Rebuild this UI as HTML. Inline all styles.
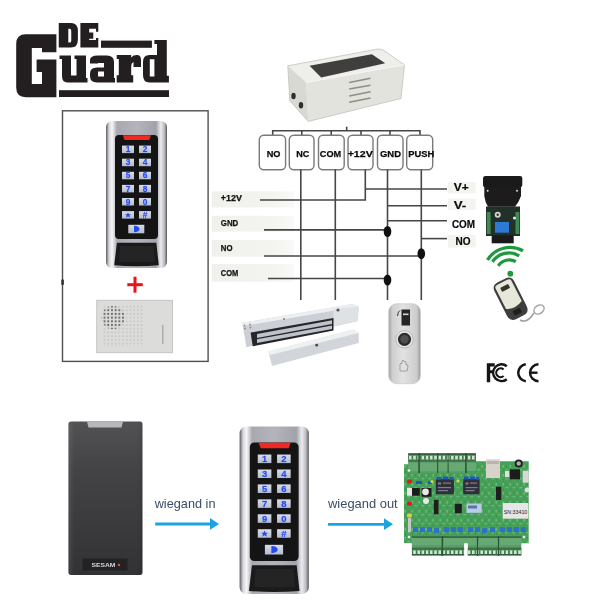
<!DOCTYPE html>
<html><head><meta charset="utf-8">
<style>
html,body{margin:0;padding:0;background:#fff;width:600px;height:600px;overflow:hidden}
svg{display:block;filter:blur(0.4px)}
text{font-family:"Liberation Sans",sans-serif}
</style></head>
<body>
<svg width="600" height="600" viewBox="0 0 600 600">
<defs>
  <linearGradient id="silverH" x1="0" x2="1" y1="0" y2="0">
    <stop offset="0" stop-color="#5a5a60"/>
    <stop offset="0.05" stop-color="#d8d8dc"/>
    <stop offset="0.1" stop-color="#f6f6f8"/>
    <stop offset="0.18" stop-color="#a8a8b0"/>
    <stop offset="0.5" stop-color="#b4b4bc"/>
    <stop offset="0.82" stop-color="#a2a2aa"/>
    <stop offset="0.9" stop-color="#ececf0"/>
    <stop offset="0.96" stop-color="#b8b8be"/>
    <stop offset="1" stop-color="#55555b"/>
  </linearGradient>
  <linearGradient id="keyG" x1="0" x2="0" y1="0" y2="1">
    <stop offset="0" stop-color="#d8dce6"/>
    <stop offset="1" stop-color="#b4bccc"/>
  </linearGradient>
  <g id="keypad">
    <rect x="0" y="0" width="61" height="147" rx="6" fill="url(#silverH)"/>
        <path d="M10.9,121.8 H50.3 L52.8,144.3 Q30,146 8.2,144.3 Z" fill="#1a1a1a"/>
    <path d="M14,125 H47.5 L49,141 H13 Z" fill="#242424"/>
    <rect x="9" y="14" width="43" height="104" rx="4" fill="#141414"/>
    <path d="M16.8,14.2 H45 L43.3,19 H18.6 Z" fill="#f02a20"/>
    <g fill="url(#keyG)">
      <rect x="16" y="24.6" width="12" height="7.5"/><rect x="33" y="24.6" width="12" height="7.5"/>
      <rect x="16" y="37.7" width="12" height="7.5"/><rect x="33" y="37.7" width="12" height="7.5"/>
      <rect x="16" y="50.8" width="12" height="7.5"/><rect x="33" y="50.8" width="12" height="7.5"/>
      <rect x="16" y="63.9" width="12" height="7.5"/><rect x="33" y="63.9" width="12" height="7.5"/>
      <rect x="16" y="77" width="12" height="7.5"/><rect x="33" y="77" width="12" height="7.5"/>
      <rect x="16" y="90.1" width="12" height="7.5"/><rect x="33" y="90.1" width="12" height="7.5"/>
      <rect x="22.3" y="103.8" width="16" height="8.5"/>
    </g>
    <g fill="#2244f0" stroke="#3a5cff" stroke-width="0.3" stroke-opacity="0.6" font-weight="bold" font-size="8.3" text-anchor="middle">
      <text x="22" y="31.2">1</text><text x="39" y="31.2">2</text>
      <text x="22" y="44.3">3</text><text x="39" y="44.3">4</text>
      <text x="22" y="57.4">5</text><text x="39" y="57.4">6</text>
      <text x="22" y="70.5">7</text><text x="39" y="70.5">8</text>
      <text x="22" y="83.6">9</text><text x="39" y="83.6">0</text>
      <text x="39" y="96.8">#</text>
    </g>
    <path d="M22,91.3 L22.9,93.2 L25,93.3 L23.4,94.6 L24,96.6 L22,95.5 L20,96.6 L20.6,94.6 L19,93.3 L21.1,93.2 Z" fill="#2548f0"/>
    <path d="M28,104.8 Q33.5,105 33.5,108 Q33.5,111 28,111.2 Z" fill="#2548f0"/>
  </g>
  <linearGradient id="btnG" x1="0" x2="1" y1="0" y2="0">
    <stop offset="0" stop-color="#a4a4a4"/>
    <stop offset="0.12" stop-color="#cfcfcf"/>
    <stop offset="0.45" stop-color="#e2e2e2"/>
    <stop offset="0.88" stop-color="#cdcdcd"/>
    <stop offset="1" stop-color="#9c9c9c"/>
  </linearGradient>
  <linearGradient id="labelL" x1="0" x2="1" y1="0" y2="0">
    <stop offset="0" stop-color="#f0f0ec"/>
    <stop offset="0.7" stop-color="#f3f3ef"/>
    <stop offset="1" stop-color="#f9f9f7"/>
  </linearGradient>
  <linearGradient id="readerG" x1="0" x2="0" y1="0" y2="1">
    <stop offset="0" stop-color="#525254"/>
    <stop offset="0.3" stop-color="#444446"/>
    <stop offset="0.7" stop-color="#3a3a3c"/>
    <stop offset="1" stop-color="#323234"/>
  </linearGradient>
  <linearGradient id="readerE" x1="0" x2="1" y1="0" y2="0">
    <stop offset="0" stop-color="#ffffff" stop-opacity="0.08"/>
    <stop offset="0.08" stop-color="#ffffff" stop-opacity="0"/>
    <stop offset="0.92" stop-color="#000000" stop-opacity="0"/>
    <stop offset="1" stop-color="#000000" stop-opacity="0.08"/>
  </linearGradient>
  <pattern id="dots" x="102.7" y="304.7" width="3.7" height="3.7" patternUnits="userSpaceOnUse">
    <circle cx="1.85" cy="1.85" r="0.85" fill="#c2c2c2"/>
  </pattern>
  <pattern id="dotsD" x="102.7" y="304.7" width="3.7" height="3.7" patternUnits="userSpaceOnUse">
    <circle cx="1.85" cy="1.85" r="1.05" fill="#6a6a6a"/>
  </pattern>
  <pattern id="screws" x="0" y="0" width="4.5" height="10" patternUnits="userSpaceOnUse">
    <rect x="0.8" y="2" width="2.8" height="3" fill="#b8e0c0"/>
  </pattern>
  <pattern id="screwT" x="408.2" y="0" width="4.2" height="10" patternUnits="userSpaceOnUse">
    <rect x="0" y="0" width="4.2" height="10" fill="#3e7248"/>
    <rect x="0.8" y="0" width="2.6" height="10" fill="#cde8cf"/>
  </pattern>
  <pattern id="pcbTex" x="404" y="464" width="7" height="9" patternUnits="userSpaceOnUse">
    <rect x="0.5" y="1" width="1.4" height="2.6" fill="#a8d8b0" opacity="0.45"/>
    <rect x="3.5" y="5" width="2.6" height="1.3" fill="#a8d8b0" opacity="0.4"/>
    <rect x="4" y="1.5" width="1" height="1" fill="#2a6a38" opacity="0.5"/>
    <rect x="1" y="6.5" width="1" height="1" fill="#2a6a38" opacity="0.5"/>
  </pattern>
</defs>

<!-- LOGO -->
<g fill="#231f20" fill-rule="evenodd">
  <path d="M25.8,34.2 H56.4 V52.2 H42 V48 H31.8 V84 H42 V72 H36.6 V59.4 H56.4 V97.2 H25.8 Q16.2,97.2 16.2,87.6 V43.8 Q16.2,34.2 25.8,34.2 Z"/>
  <path d="M58.75,23 H71 Q77.9,23 77.9,31 V39.5 Q77.9,47.6 71,47.6 H58.75 Z M68.3,28.8 H69.8 Q71.25,28.8 71.25,31 V40.4 Q71.25,42.6 69.8,42.6 H68.3 Z"/>
  <path d="M80.4,23 H98.3 V31.75 H96 V28.8 H89.2 V32.6 H93.3 V38.8 H89.2 V40 H96 V38 H98.3 V47.6 H80.4 Z"/>
  <rect x="101" y="40.6" width="50.9" height="7.2"/>
  <path d="M59.5,55.5 H71 V75.5 H76.5 V59 H74.5 V55.5 H86 V78 H87.5 V82.5 H67.5 Q62,82.5 62,76 V59 H59.5 Z"/>
  <path d="M90,63.5 V60 Q90,55.5 98,55.5 H107 Q114,55.5 114,62 V78 H115 V82.5 H97 Q90,82.5 90,76 V73.5 Q90,67.5 97,67.5 H104 V63 H98 V63.5 Z M98,71.5 H104 V76.5 H98 Z"/>
  <path d="M116.7,55.1 H131.2 V57.5 Q133,55.1 137,55.1 Q141,55.1 141,60 V67 H133.5 V62 Q131.2,63 131.2,66 V75.3 H133.2 V82.5 H116.7 V75.3 H118.8 V59 H116.7 Z"/>
  <path d="M154.4,40.1 H166.8 V75.8 H168.9 V82.5 H149.5 Q143,82.5 143,75 V62 Q143,55.1 149.5,55.1 H157 V44 H154.4 Z M149.8,59.3 H154.4 V76.5 H149.8 Z"/>
  <rect x="59" y="90.2" width="110" height="6.8"/>
</g>

<!-- LEFT BOX -->
<rect x="62.5" y="110.8" width="145.6" height="250.6" fill="none" stroke="#505050" stroke-width="1.4"/>
<rect x="61.3" y="279.6" width="2.6" height="5.2" fill="#333"/>
<use href="#keypad" transform="translate(106,121)"/>
<!-- red plus -->
<g fill="#e8141c">
  <rect x="127.3" y="283.2" width="15.5" height="3"/>
  <rect x="133.5" y="276.7" width="3" height="16"/>
</g>
<!-- door bell -->
<rect x="96.75" y="300.25" width="75.75" height="52.5" fill="#dcdcda" stroke="#bcbcbc" stroke-width="0.8"/>
<rect x="102.7" y="304.7" width="40.7" height="42" fill="url(#dots)"/>
<circle cx="113" cy="317.5" r="11.5" fill="url(#dotsD)"/>
<rect x="162" y="325" width="1.6" height="19" fill="#b0b0b0"/>

<!-- PSU -->
<g>
  <path d="M287.8,65.8 L376.9,49.2 Q381,48.6 384,50.5 L404.5,64.8 L306.2,82.5 Z" fill="#eeeeea"/>
  <path d="M309.5,65.8 L371.9,54.3 L385.2,63.3 L321.2,77.5 Z" fill="#403f3d"/>
  <path d="M306.2,82.5 L404.5,64.8 L401,98.5 L308.3,121.4 Z" fill="#e3e3dd"/>
  <path d="M287.8,65.8 L306.2,82.5 L308.3,121.4 L289.9,101 Z" fill="#d9d9d3"/>
  <path d="M287.8,65.8 L376.9,49.2 Q381,48.6 384,50.5 L404.5,64.8 L401,98.5 L308.3,121.4 L289.9,101 Z" fill="none" stroke="#c2c2bc" stroke-width="0.8"/>
  <path d="M306.2,82.5 L404.5,64.8" stroke="#f6f6f2" stroke-width="1"/>
  <g stroke="#8e8e88" stroke-width="1.5">
    <line x1="349.2" y1="82.5" x2="370.5" y2="78.2"/>
    <line x1="349.2" y1="88.9" x2="370.5" y2="85.3"/>
    <line x1="349.2" y1="96" x2="370.5" y2="91.7"/>
    <line x1="349.2" y1="102.3" x2="370.5" y2="98.1"/>
  </g>
  <ellipse cx="293.5" cy="96" rx="2.2" ry="3.2" fill="#2e2e2e"/>
  <ellipse cx="301" cy="105.2" rx="2.2" ry="3.2" fill="#2e2e2e"/>
</g>

<!-- DIAGRAM -->
<g stroke="#464646" stroke-width="1.6" fill="none">
  <line x1="272.7" y1="130.7" x2="420" y2="130.7"/>
  <line x1="346.7" y1="126.7" x2="346.7" y2="130.7"/>
  <line x1="272.7" y1="130" x2="272.7" y2="135"/>
  <line x1="301.8" y1="130" x2="301.8" y2="135"/>
  <line x1="331.2" y1="130" x2="331.2" y2="135"/>
  <line x1="361" y1="130" x2="361" y2="135"/>
  <line x1="390" y1="130" x2="390" y2="135"/>
  <line x1="420" y1="130" x2="420" y2="135"/>
</g>
<g stroke="#7a7a7a" stroke-width="1.4" fill="#fff">
  <rect x="259.3" y="135.2" width="26.3" height="34.5" rx="4.5"/>
  <rect x="289.3" y="135.2" width="24.7" height="34.5" rx="4.5"/>
  <rect x="318.5" y="135.2" width="25.7" height="34.5" rx="4.5"/>
  <rect x="348" y="135.2" width="25" height="34.5" rx="4.5"/>
  <rect x="377.5" y="135.2" width="25.5" height="34.5" rx="4.5"/>
  <rect x="406.7" y="135.2" width="26" height="34.5" rx="4.5"/>
</g>
<g font-weight="bold" font-size="9.8" fill="#0a0a0a" stroke="#0a0a0a" stroke-width="0.25">
  <text x="266.7" y="156.8" textLength="13.8" lengthAdjust="spacingAndGlyphs">NO</text>
  <text x="296.2" y="156.8" textLength="13.1" lengthAdjust="spacingAndGlyphs">NC</text>
  <text x="319.8" y="156.8" textLength="21.4" lengthAdjust="spacingAndGlyphs">COM</text>
  <text x="347.7" y="156.8" textLength="25" lengthAdjust="spacingAndGlyphs">+12V</text>
  <text x="380" y="156.8" textLength="21" lengthAdjust="spacingAndGlyphs">GND</text>
  <text x="408.3" y="156.8" textLength="26" lengthAdjust="spacingAndGlyphs">PUSH</text>
</g>
<!-- left labels -->
<g fill="url(#labelL)">
  <rect x="211.7" y="191.3" width="82.3" height="16.2"/>
  <rect x="211.7" y="215.8" width="82.3" height="15.9"/>
  <rect x="211.7" y="240" width="82.3" height="16.7"/>
  <rect x="211.7" y="264" width="82.3" height="17.7"/>
</g>
<g font-weight="bold" font-size="9.2" fill="#111" stroke="#111" stroke-width="0.25">
  <text x="220.8" y="201" textLength="21.2" lengthAdjust="spacingAndGlyphs">+12V</text>
  <text x="220.8" y="226" textLength="17.5" lengthAdjust="spacingAndGlyphs">GND</text>
  <text x="220.8" y="251" textLength="11.7" lengthAdjust="spacingAndGlyphs">NO</text>
  <text x="220.8" y="276" textLength="17.5" lengthAdjust="spacingAndGlyphs">COM</text>
</g>
<!-- right labels -->
<g fill="#f3f3ef">
  <rect x="448" y="182" width="27.6" height="11.2"/>
  <rect x="448" y="198.75" width="27.6" height="11.25"/>
  <rect x="448" y="235" width="27.6" height="12.5"/>
</g>
<g font-weight="bold" font-size="10.5" fill="#0a0a0a" stroke="#0a0a0a" stroke-width="0.2">
  <text x="453.75" y="191.25" textLength="15" lengthAdjust="spacingAndGlyphs">V+</text>
  <text x="453.75" y="208.5" textLength="12.5" lengthAdjust="spacingAndGlyphs">V-</text>
  <text x="451.9" y="227.5" textLength="23.1" lengthAdjust="spacingAndGlyphs">COM</text>
  <text x="455.6" y="245" textLength="15" lengthAdjust="spacingAndGlyphs">NO</text>
</g>
<g stroke="#464646" stroke-width="1.6" fill="none">
  <line x1="300.8" y1="169.5" x2="300.8" y2="300"/>
  <line x1="335.3" y1="169.5" x2="335.3" y2="300"/>
  <line x1="387.5" y1="169.5" x2="387.5" y2="300"/>
  <line x1="421.3" y1="169.5" x2="421.3" y2="300"/>
  <polyline points="260,200 365.3,200 365.3,169.5"/>
  <line x1="365.3" y1="189" x2="447" y2="189"/>
  <line x1="387.5" y1="205.7" x2="447" y2="205.7"/>
  <line x1="387.5" y1="220.8" x2="447" y2="220.8"/>
  <line x1="421.3" y1="238.6" x2="447" y2="238.6"/>
  <line x1="264" y1="229.9" x2="387.5" y2="229.9"/>
  <line x1="264" y1="256" x2="421.3" y2="256"/>
  <line x1="268" y1="278.5" x2="387.5" y2="278.5"/>
</g>
<g fill="#111">
  <ellipse cx="387.5" cy="231.5" rx="3.8" ry="5.5"/>
  <ellipse cx="421.3" cy="253.7" rx="3.8" ry="5.5"/>
  <ellipse cx="387.5" cy="280" rx="3.8" ry="5.5"/>
</g>

<!-- receiver module -->
<g>
  <path d="M485,176 H520.5 Q522.3,176 522.3,178.5 V185 Q522.3,187.3 520,187.3 H485 Q483,187.3 483,185 V178.5 Q483,176 485,176 Z" fill="#1a1a1a"/>
  <path d="M484.3,187 H521 V196 Q519,202 515,206.7 H488 Q485,202 484.3,196 Z" fill="#1c1c1c"/>
  <circle cx="487.7" cy="190.7" r="1" fill="#dddddd"/>
  <circle cx="517" cy="190.7" r="1" fill="#dddddd"/>
  <rect x="486" y="206.5" width="34" height="29.5" fill="#22302a"/>
  <rect x="486.8" y="212" width="3.8" height="22" fill="#3f8a52"/>
  <rect x="515.5" y="212" width="3.8" height="22" fill="#3f8a52"/>
  <rect x="495" y="222" width="14" height="10.7" fill="#2e78d6"/>
  <circle cx="497.7" cy="214.7" r="3" fill="#d6d6cc"/>
  <circle cx="497.7" cy="214.7" r="1.2" fill="#333"/>
  <circle cx="514.5" cy="218" r="1.6" fill="#e0e0e0"/>
  <rect x="491.7" y="235.3" width="22" height="8" fill="#1a1a1a"/>
</g>
<!-- wifi -->
<g stroke="#1e9a3c" stroke-width="3.3" fill="none">
  <path d="M487.5,260 A26.5,26.5 0 0 1 523,250.8"/>
  <path d="M492.5,261.7 A20,20 0 0 1 519.2,255.8"/>
  <path d="M498.3,265.8 A13,13 0 0 1 515.8,261.7"/>
</g>
<circle cx="510.3" cy="273.7" r="2.9" fill="#1e9a3c"/>
<!-- remote -->
<g transform="translate(510.7,298.8) rotate(-27)">
  <path d="M-11,-14 Q-11,-20.5 -4,-20.5 H4 Q11,-20.5 11,-14 V13 Q11,20.5 4,20.5 H-4 Q-11,20.5 -11,13 Z" fill="#3e3e3e"/>
  <path d="M-8.8,-16 Q-8.8,-18.6 -5.5,-18.6 H5.5 Q8.8,-18.6 8.8,-16 V7 Q0,11.5 -8.8,7 Z" fill="#e8e8da"/>
  <rect x="-4.5" y="-14.5" width="9" height="4.5" rx="1" fill="#35352e"/>
  <rect x="-4" y="12" width="8" height="5" fill="#1e1e1e"/>
</g>
<g stroke="#a0a0a0" stroke-width="1.5" fill="none">
  <ellipse cx="539" cy="309.5" rx="5.5" ry="4" transform="rotate(-35 539 309.5)"/>
  <path d="M520,320 Q527,324 534,313"/>
</g>

<!-- mag lock -->
<g>
  <path d="M242.2,322.8 L352.4,303.9 L358.7,306.4 L357.7,321.1 L246.4,347.3 Z" fill="#ccd0d6"/>
  <path d="M242.2,322.8 L352.4,303.9 L358.7,306.4 L243.2,326 Z" fill="#eceef0"/>
  <path d="M333.5,309 L358.7,306.4 L357.7,321.1 L333.5,326 Z" fill="#dfe2e5"/>
  <path d="M250.6,332.6 L333.5,318 L333.5,330.5 L252.7,346.3 Z" fill="#26262a"/>
  <path d="M257,334 L332,320.3 L332,324 L257,338 Z" fill="#bec2ca"/>
  <path d="M257,339.3 L332,325.5 L332,329 L257,343 Z" fill="#bec2ca"/>
  <circle cx="338" cy="310" r="1.6" fill="#555"/>
  <circle cx="284" cy="319" r="0.9" fill="#777"/>
  <circle cx="244.5" cy="325.5" r="0.9" fill="#8a8a8a"/><circle cx="250" cy="324.5" r="0.9" fill="#8a8a8a"/>
  <circle cx="245" cy="328.5" r="0.9" fill="#8a8a8a"/><circle cx="250.5" cy="327.5" r="0.9" fill="#8a8a8a"/>
  <path d="M268.4,351.5 L353.5,329.5 L358.7,333 L358.7,343 L272,366 Z" fill="#d2d5da"/>
  <path d="M268.4,351.5 L353.5,329.5 L358.7,333 L270,355 Z" fill="#eef0f2"/>
  <circle cx="316.7" cy="345.2" r="1.4" fill="#444"/>
</g>
<!-- exit button -->
<rect x="388.7" y="303.7" width="31.7" height="80" rx="8" fill="url(#btnG)" stroke="#c4c4c4" stroke-width="0.6"/>
<rect x="401.5" y="309.5" width="8.5" height="16" fill="#262626"/>
<rect x="403" y="313.5" width="5.5" height="1.6" fill="#d8d8d8"/>
<path d="M397.5,316 Q398,311 400,310.5" stroke="#333" stroke-width="1" fill="none"/>
<circle cx="404.5" cy="339.3" r="8.7" fill="#e8e8e8" stroke="#9a9a9a" stroke-width="0.6"/>
<circle cx="404.5" cy="339.3" r="6.6" fill="#2c2c2c"/>
<circle cx="404.5" cy="339.3" r="4.2" fill="#505050"/>
<path d="M400,371 V364 Q401,362 402,364 V361 Q403,359 404,361 V362 Q405,360 406,362 V365 Q408,364 408,366 L407,371 Z" fill="none" stroke="#9a9a9a" stroke-width="0.9"/>

<!-- FC CE -->
<path d="M486.8,382.2 V363.2 H494.7 V366.6 H490.2 V370.2 H493.4 V373.3 H490.2 V382.2 Z" fill="#151515"/>
<g fill="none" stroke="#151515">
  <path d="M506.8,366.2 A8.4,8.4 0 1 0 506.8,379.2" stroke-width="2.4"/>
  <path d="M503.6,369.5 A4.4,4.4 0 1 0 503.6,376" stroke-width="2.1"/>
  <path d="M525.8,364.3 A8.5,8.5 0 0 0 525.8,381.2" stroke-width="2.5"/>
  <path d="M538.5,364.3 A8.4,8.4 0 0 0 538.5,381.2" stroke-width="2.5"/>
  <path d="M530.5,372.7 H537.5" stroke-width="2.4"/>
</g>

<!-- BOTTOM: reader -->
<path d="M68.4,424 Q68.4,421.4 71,421.4 H140 Q142.5,421.4 142.5,424 V572 Q142.5,575 140,575 H71 Q68.4,575 68.4,572 Z" fill="url(#readerG)"/>
<path d="M68.4,424 Q68.4,421.4 71,421.4 H140 Q142.5,421.4 142.5,424 V572 Q142.5,575 140,575 H71 Q68.4,575 68.4,572 Z" fill="url(#readerE)"/>
<path d="M87,421.4 H123 L121.5,427.4 H88.5 Z" fill="#b8b8ba"/>
<rect x="82.5" y="558.5" width="45" height="12" fill="#222224"/>
<text x="91.5" y="567" font-size="6" fill="#d8d8d8" font-weight="bold" textLength="24" lengthAdjust="spacingAndGlyphs">SESAM</text>
<circle cx="119" cy="565" r="1.2" fill="#d06020"/>

<!-- wiegand in -->
<text x="154.7" y="507.5" font-size="13.5" fill="#3a4d66" textLength="60.8" lengthAdjust="spacingAndGlyphs">wiegand in</text>
<line x1="155.2" y1="524" x2="212" y2="524" stroke="#1aa3df" stroke-width="2.8"/>
<path d="M210,518 L219,524 L210,529.7 Z" fill="#1aa3df"/>

<!-- keypad 2 -->
<use href="#keypad" transform="translate(239.6,426.5) scale(1.135,1.14)"/>

<!-- wiegand out -->
<text x="328" y="507.5" font-size="13.5" fill="#3a4d66" textLength="69.7" lengthAdjust="spacingAndGlyphs">wiegand out</text>
<line x1="328" y1="524.3" x2="386" y2="524.3" stroke="#1aa3df" stroke-width="2.8"/>
<path d="M384,518.3 L393,524.3 L384,530 Z" fill="#1aa3df"/>

<!-- PCB -->
<g>
  <path d="M404,464.3 H476 V461.3 H528.7 V543.2 H404 Z" fill="#46a058"/>
  <rect x="404" y="464.3" width="124.7" height="79" fill="url(#pcbTex)"/>
  <!-- top terminals -->
  <g id="tt">
    <g fill="#5c9e6a">
      <rect x="408.2" y="453.3" width="10.5" height="19.2"/>
      <rect x="419.8" y="453.3" width="17.5" height="19.2"/>
      <rect x="438" y="453.3" width="9.8" height="19.2"/>
      <rect x="448.4" y="453.3" width="16.9" height="19.2"/>
      <rect x="466.5" y="453.3" width="9.5" height="17.4"/>
    </g>
    <rect x="408.2" y="453.3" width="67.8" height="2" fill="#34603e"/>
    <rect x="408.2" y="459.6" width="67.8" height="2.2" fill="#3e7248"/>
    <rect x="408.2" y="455.8" width="67.8" height="3.6" fill="url(#screwT)"/>
    <rect x="408.2" y="463" width="67.8" height="8" fill="#69ab76" opacity="0.8"/>
    <g fill="#2a5534">
      <rect x="418.3" y="453" width="1.6" height="20"/>
      <rect x="437.1" y="453" width="1.1" height="20"/>
      <rect x="447.6" y="453" width="1" height="20"/>
      <rect x="465.1" y="453" width="1.6" height="20"/>
    </g>
  </g>
  <!-- bottom terminals -->
  <g fill="#5c9e6a">
    <rect x="411.7" y="536.5" width="30.3" height="18.8"/>
    <rect x="443.2" y="536.5" width="21" height="18.8"/>
    <rect x="467.7" y="536.5" width="9.3" height="18.8"/>
    <rect x="478.2" y="536.5" width="19.8" height="18.8"/>
    <rect x="499.2" y="536.5" width="22.1" height="18.8"/>
  </g>
  <rect x="411.7" y="536.3" width="109.6" height="1.5" fill="#34603e"/>
  <rect x="411.7" y="538" width="109.6" height="7" fill="#69ab76" opacity="0.8"/>
  <rect x="411.7" y="547.5" width="109.6" height="2.5" fill="#3e7248"/>
  <rect x="411.7" y="550.5" width="109.6" height="3.5" fill="url(#screwT)"/>
  <rect x="411.7" y="554" width="109.6" height="1.5" fill="#34603e"/>
  <g fill="#2a5534">
    <rect x="441.6" y="536" width="1.6" height="20"/>
    <rect x="476.9" y="536" width="1.3" height="20"/>
    <rect x="497.9" y="536" width="1.3" height="20"/>
  </g>
  <rect x="464.2" y="543.3" width="3.5" height="13" fill="#fff"/>
  <rect x="403" y="543.3" width="8.7" height="13" fill="#fff"/>
  <circle cx="409" cy="470.5" r="1.8" fill="#e8f0e8" stroke="#3a8a4a" stroke-width="0.6"/>
  <circle cx="409" cy="537" r="1.8" fill="#e8f0e8" stroke="#3a8a4a" stroke-width="0.6"/>
  <circle cx="524" cy="537" r="1.8" fill="#e8f0e8" stroke="#3a8a4a" stroke-width="0.6"/>
  <rect x="485.9" y="459.3" width="14.1" height="18.7" fill="#d8d2ca"/>
  <rect x="487" y="461" width="12" height="3" fill="#bab4ac"/>
  <circle cx="518.7" cy="463.5" r="4" fill="#1c1c1c"/>
  <circle cx="518.7" cy="463.5" r="2.2" fill="#aaa"/>
  <rect x="510" y="469.3" width="10" height="10" fill="#1c1c1c"/>
  <rect x="505" y="471" width="4" height="6" fill="#e0e0e0"/>
  <rect x="522.7" y="470.7" width="6" height="12" fill="#d8d8d8"/>
  <rect x="496" y="486.7" width="5.3" height="13.3" fill="#1e1e1e"/>
  <circle cx="527" cy="490" r="2.5" fill="#e0e0e0"/>
  <rect x="502.7" y="503" width="25.6" height="15.7" fill="#e6e6e6"/>
  <text x="503.8" y="513.5" font-size="6.2" fill="#222" textLength="23.5" lengthAdjust="spacingAndGlyphs">SN:33410</text>
  <!-- relays -->
  <rect x="435.8" y="479" width="18.1" height="15.3" fill="#30303c"/>
  <rect x="463.3" y="479" width="16.3" height="15.3" fill="#30303c"/>
  <g fill="#9a9aac" opacity="0.75">
    <rect x="438" y="482.5" width="3" height="2"/><rect x="443" y="482.5" width="8" height="1.2"/>
    <rect x="438" y="487" width="13" height="1.2"/><rect x="438" y="490" width="10" height="1.2"/>
    <rect x="465.5" y="482.5" width="3" height="2"/><rect x="470" y="482.5" width="7" height="1.2"/>
    <rect x="465.5" y="487" width="12" height="1.2"/><rect x="465.5" y="490" width="9" height="1.2"/>
  </g>
  <g fill="#1f56c0">
    <rect x="436.5" y="477" width="5" height="3"/><rect x="443" y="476.5" width="5" height="3"/><rect x="449" y="477" width="4.5" height="3"/>
    <rect x="464" y="476.5" width="4.5" height="3"/><rect x="470" y="476.5" width="5" height="3"/><rect x="476" y="477" width="3.5" height="3"/>
    <rect x="416" y="481" width="6" height="3"/><rect x="428" y="481" width="4" height="3"/>
  </g>
  <circle cx="432" cy="481.5" r="1.6" fill="#d8d840"/>
  <circle cx="458" cy="481" r="1.6" fill="#d8d840"/>
  <rect x="407" y="479.5" width="5" height="4" rx="1.5" fill="#d8201a"/>
  <rect x="407" y="501.8" width="5" height="4" rx="1.5" fill="#d8201a"/>
  <rect x="407" y="513.5" width="5" height="4" rx="1.5" fill="#d8d040"/>
  <rect x="407" y="488" width="5" height="7.7" fill="#e8e8e8"/>
  <rect x="412" y="488" width="7.8" height="7.7" fill="#1c1c1c"/>
  <rect x="421.6" y="488" width="9.9" height="8.8" fill="#1c1c1c"/>
  <circle cx="425.5" cy="491.8" r="3.4" fill="#e8e8e8"/>
  <circle cx="426" cy="501" r="3" fill="#e8e8e8"/>
  <rect x="433.8" y="499.8" width="4.7" height="14.5" fill="#1e1e1e"/>
  <rect x="454.8" y="503.8" width="7" height="9.4" fill="#1e1e1e"/>
  <rect x="466.5" y="503.5" width="15.2" height="9.3" fill="#b8cce8"/>
  <rect x="468" y="505.5" width="9" height="3" fill="#5a74a8"/>
  <rect x="408" y="518" width="3" height="14" fill="#c8c8c8"/>
  <!-- blue row -->
  <g fill="#2c72c8">
    <rect x="413" y="527.2" width="5" height="5"/><rect x="420" y="527.2" width="5" height="5"/>
    <rect x="427" y="527.2" width="5" height="5"/><rect x="434" y="528.2" width="5" height="5"/>
    <rect x="444" y="527.2" width="5" height="5"/><rect x="451" y="527.2" width="5" height="5"/>
    <rect x="458" y="527.2" width="5" height="5"/><rect x="468" y="527.2" width="5" height="5"/>
    <rect x="475" y="527.2" width="5" height="5"/><rect x="482" y="528.2" width="5" height="5"/>
    <rect x="490" y="527.2" width="5" height="5"/><rect x="500" y="527.2" width="5" height="5"/>
    <rect x="507" y="527.2" width="5" height="5"/><rect x="514" y="527.2" width="5" height="5"/>
    <rect x="521" y="527.2" width="5" height="5"/>
  </g>
</g>
</svg>
</body></html>
